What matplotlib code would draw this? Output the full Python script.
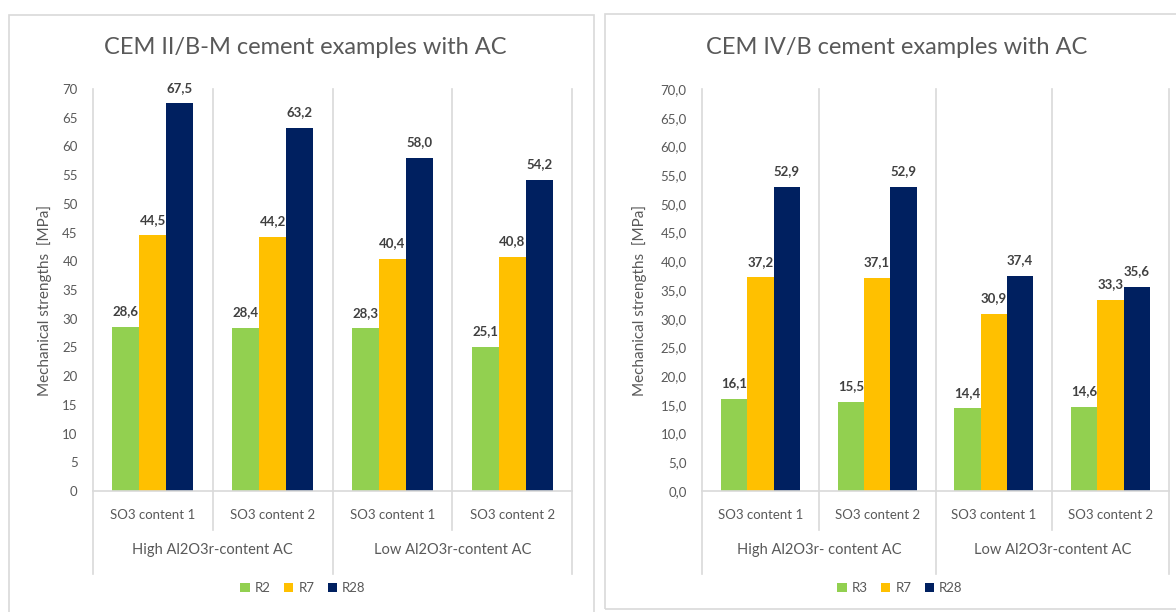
import matplotlib.pyplot as plt
import numpy as np
from matplotlib.patches import Rectangle
from matplotlib.lines import Line2D
from matplotlib.transforms import blended_transform_factory

plt.rcParams['font.family'] = ['Lato', 'DejaVu Sans']

W, H = 1176, 612

sub_labels = ['SO3 content 1', 'SO3 content 2', 'SO3 content 1', 'SO3 content 2']
left_groups = ['High Al2O3r-content AC', 'Low Al2O3r-content AC']
right_groups = ['High Al2O3r- content AC', 'Low Al2O3r-content AC']

left_title = 'CEM II/B-M cement examples with AC'
left_series = ['R2', 'R7', 'R28']
left_r_early = [28.6, 28.4, 28.3, 25.1]
left_r7 = [44.5, 44.2, 40.4, 40.8]
left_r28 = [67.5, 63.2, 58.0, 54.2]

right_title = 'CEM IV/B cement examples with AC'
right_series = ['R3', 'R7', 'R28']
right_r_early = [16.1, 15.5, 14.4, 14.6]
right_r7 = [37.2, 37.1, 30.9, 33.3]
right_r28 = [52.9, 52.9, 37.4, 35.6]

colors = ['#92D050', '#FFC000', '#002060']
grid_c = '#D9D9D9'
text_c = '#595959'
label_c = '#404040'


def fx(px):
    return px / W


def fy(py):
    return 1 - py / H


def comma(v, nd=1):
    return f'{v:.{nd}f}'.replace('.', ',')


def panel(fig, box, ax_px, title, title_xy, series, values, groups,
          ylab_x, legend_xy, tick_dec):
    x0, y0, x1, y1 = box
    fig.add_artist(Rectangle((fx(x0), fy(y1)), fx(x1 - x0), (y1 - y0) / H,
                             transform=fig.transFigure, fill=False,
                             edgecolor=grid_c, lw=1.2))
    ax0, ay0, ax1, ay1 = ax_px
    ax = fig.add_axes([fx(ax0), fy(ay1), fx(ax1 - ax0), (ay1 - ay0) / H])
    n = len(sub_labels)
    x = np.arange(n)
    width = 0.225
    bars = []
    for i, (name, vals) in enumerate(zip(series, values)):
        b = ax.bar(x + (i - 1) * width, vals, width, color=colors[i], label=name)
        bars.append(b)
        for xi, v in zip(x + (i - 1) * width, vals):
            ax.annotate(comma(v), (xi, v), xytext=(0, 7), textcoords='offset points',
                        ha='center', va='bottom', fontsize=9.5, fontweight='bold',
                        color=label_c)
    ax.set_xlim(-0.5, n - 0.5)
    ax.set_ylim(0, 70)
    ax.set_yticks(np.arange(0, 71, 5))
    ax.set_yticklabels([comma(t, tick_dec) if tick_dec else str(t)
                        for t in range(0, 71, 5)])
    ax.tick_params(axis='y', length=0, pad=11, labelsize=9.5, labelcolor=text_c)
    ax.set_xticks([])
    for s in ['top', 'right', 'left']:
        ax.spines[s].set_visible(False)
    ax.spines['bottom'].set_color(grid_c)
    ax.spines['bottom'].set_linewidth(1.2)

    # category separators, running down through the label rows
    tr = blended_transform_factory(ax.transData, ax.transAxes)
    h_px = ay1 - ay0
    inner = -(530 - ay1) / h_px
    outer = -(574 - ay1) / h_px
    for k, sep in enumerate(np.arange(-0.5, n, 1.0)):
        low = outer if k % 2 == 0 else inner
        ax.add_line(Line2D([sep, sep], [low, 1], transform=tr, color=grid_c,
                           lw=1.2, clip_on=False, zorder=0))
    for xi, lab in zip(x, sub_labels):
        ax.text(xi, -(515 - ay1) / h_px, lab, transform=tr, ha='center',
                va='center', fontsize=9.5, color=text_c)
    for gi, g in enumerate(groups):
        ax.text(2 * gi + 0.5, -(550 - ay1) / h_px, g, transform=tr, ha='center',
                va='center', fontsize=10.5, color=text_c)

    fig.text(fx(title_xy[0]), fy(title_xy[1]), title, ha='center', va='center',
             fontsize=17, color=text_c)
    fig.text(fx(ylab_x), fy(300), 'Mechanical strengths  [MPa]', rotation=90,
             ha='center', va='center', fontsize=11, color=text_c)
    fig.legend(handles=bars, loc='center',
               bbox_to_anchor=(fx(legend_xy[0]), fy(legend_xy[1])), ncol=3,
               frameon=False, fontsize=9.5, labelcolor=text_c, handlelength=0.7,
               handleheight=0.7, handletextpad=0.4, columnspacing=1.0)
    return ax


fig = plt.figure(figsize=(W / 100, H / 100), dpi=100)

panel(fig, (9, 15, 594, 640), (93, 89, 572, 491), left_title, (305, 47),
      left_series, [left_r_early, left_r7, left_r28], left_groups,
      45, (303, 588), 0)
panel(fig, (605, 14, 1200, 609), (702, 89, 1169, 491), right_title, (897, 47),
      right_series, [right_r_early, right_r7, right_r28], right_groups,
      640, (900, 588), 1)

plt.savefig('out.png', dpi=100)
